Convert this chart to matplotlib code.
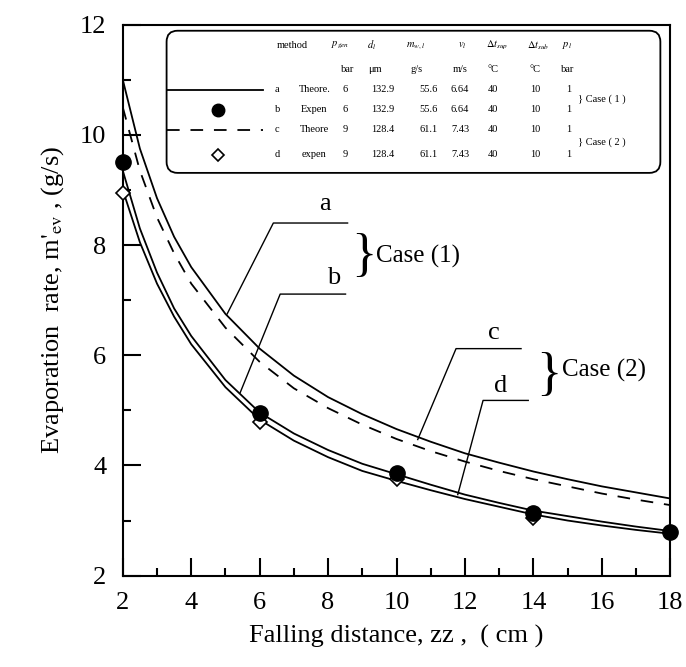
import matplotlib
matplotlib.use("Agg")
import matplotlib.pyplot as plt
from matplotlib.patches import FancyBboxPatch
from matplotlib.ticker import MultipleLocator

plt.rcParams['font.family'] = ['Liberation Serif', 'DejaVu Serif']
plt.rcParams['mathtext.fontset'] = 'stix'

xc = [2, 2.5, 3, 3.5, 4, 5, 6, 7, 8, 9, 10, 11, 12, 13, 14, 15, 16, 17, 18]
ya = [11.0, 9.75, 8.85, 8.15, 7.6, 6.75, 6.12, 5.63, 5.24, 4.93, 4.66, 4.43, 4.22, 4.05, 3.89, 3.75, 3.62, 3.51, 3.40]
yb = [9.35, 8.3, 7.5, 6.85, 6.35, 5.55, 4.96, 4.58, 4.28, 4.03, 3.84, 3.65, 3.47, 3.32, 3.18, 3.08, 2.98, 2.89, 2.81]
yc = [10.5, 9.35, 8.5, 7.85, 7.3, 6.5, 5.88, 5.4, 5.04, 4.74, 4.48, 4.26, 4.07, 3.9, 3.75, 3.62, 3.49, 3.38, 3.28]
yd = [9.0, 8.05, 7.3, 6.7, 6.2, 5.42, 4.83, 4.45, 4.15, 3.9, 3.72, 3.55, 3.39, 3.25, 3.11, 3.0, 2.91, 2.83, 2.76]

# points expérimentaux
xp = [2, 6, 10, 14, 18]
yp_b = [9.5, 4.96, 3.86, 3.14, 2.8]
xp_d = [2, 6, 10, 14]
yp_d = [8.95, 4.78, 3.76, 3.05]

# tableau de la légende
colonnes = ["method", r"$p_{gen}$", r"$d_l$", r"$m_{w,l}$", r"$v_l$", r"$\Delta t_{sup}$", r"$\Delta t_{sub}$", r"$p_l$"]
unites = ["bar", "μm", "g/s", "m/s", "°C", "°C", "bar"]
lignes = [
    ["a", "Theore.", "6", "132.9", "55.6", "6.64", "40", "10", "1"],
    ["b", "Expen", "6", "132.9", "55.6", "6.64", "40", "10", "1"],
    ["c", "Theore", "9", "128.4", "61.1", "7.43", "40", "10", "1"],
    ["d", "expen", "9", "128.4", "61.1", "7.43", "40", "10", "1"],
]

fig = plt.figure(figsize=(6.86, 6.67), dpi=100)
ax = fig.add_axes([0.179, 0.137, 0.798, 0.826])

ax.plot(xc, ya, color="black", lw=1.3)
ax.plot(xc, yb, color="black", lw=1.3)
ax.plot(xc, yc, color="black", lw=1.3, dashes=(7, 6))
ax.plot(xc, yd, color="black", lw=1.3)
ax.plot(xp, yp_b, "o", color="black", ms=11, clip_on=False, zorder=5)
ax.plot(xp_d, yp_d, "D", mfc="white", mec="black", ms=7, mew=1.2, clip_on=False, zorder=4)

ax.set_xlim(2, 18)
ax.set_ylim(2, 12)
ax.xaxis.set_major_locator(MultipleLocator(2))
ax.xaxis.set_minor_locator(MultipleLocator(1))
ax.yaxis.set_major_locator(MultipleLocator(2))
ax.yaxis.set_minor_locator(MultipleLocator(1))
ax.tick_params(which="both", direction="in", top=False, right=False, labelsize=19, width=1.5, pad=12)
ax.tick_params(which="major", length=13)
ax.tick_params(which="minor", length=6)
for s in ax.spines.values():
    s.set_linewidth(1.5)

ax.set_xlabel("Falling distance, zz ,  ( cm )", fontsize=19, labelpad=8)
ax.set_ylabel(r"Evaporation  rate, m$'_{\rm ev}$ , (g/s)", fontsize=19, labelpad=10)

# repères a, b, c, d
ax.plot([5.05, 6.4, 8.57], [6.75, 8.4, 8.4], color="black", lw=1)
ax.plot([5.43, 6.6, 8.51], [5.32, 7.11, 7.11], color="black", lw=1)
ax.plot([10.62, 11.74, 13.64], [4.47, 6.12, 6.12], color="black", lw=1)
ax.plot([11.79, 12.53, 13.85], [3.47, 5.18, 5.18], color="black", lw=1)
ax.text(7.9, 8.55, "a", fontsize=19, ha="center", va="bottom")
ax.text(8.15, 7.2, "b", fontsize=19, ha="center", va="bottom")
ax.text(12.85, 6.2, "c", fontsize=19, ha="center", va="bottom")
ax.text(13.05, 5.25, "d", fontsize=19, ha="center", va="bottom")
ax.text(9.05, 7.78, "}", fontsize=38, ha="center", va="center")
ax.text(9.4, 7.8, "Case (1)", fontsize=18, ha="left", va="center")
ax.text(14.45, 5.62, "}", fontsize=38, ha="center", va="center")
ax.text(14.85, 5.72, "Case (2)", fontsize=18, ha="left", va="center")

# légende sous forme de tableau
box = FancyBboxPatch((0.08, 0.731), 0.902, 0.258, boxstyle="round,pad=0,rounding_size=0.02",
                     transform=ax.transAxes, fc="white", ec="black", lw=1.3, zorder=6)
ax.add_patch(box)
tr = ax.transAxes
fs = 7.5
ycol = [0.882, 0.846, 0.809, 0.764]
ax.plot([0.08, 0.256], [ycol[0], ycol[0]], color="black", lw=1.3, transform=tr, zorder=7)
ax.plot([0.174], [ycol[1]], "o", color="black", ms=9, transform=tr, zorder=7)
ax.plot([0.08, 0.256], [ycol[2], ycol[2]], color="black", lw=1.3, dashes=(7, 6), transform=tr, zorder=7)
ax.plot([0.174], [ycol[3]], "D", mfc="white", mec="black", ms=6, mew=1.2, transform=tr, zorder=7)

xh = [0.31, 0.397, 0.455, 0.534, 0.62, 0.684, 0.759, 0.812]
for x, t in zip(xh, colonnes):
    ax.text(x, 0.962, t, fontsize=fs, ha="center", va="center", transform=tr, zorder=8)
xu = [0.41, 0.461, 0.537, 0.616, 0.676, 0.753, 0.813]
for x, t in zip(xu, unites):
    ax.text(x, 0.918, t, fontsize=fs, ha="center", va="center", transform=tr, zorder=8)
xr = [0.282, 0.35, 0.406, 0.475, 0.558, 0.616, 0.676, 0.753, 0.815]
for y, row in zip(ycol, lignes):
    for x, t in zip(xr, row):
        ax.text(x, y, t, fontsize=fs, ha="center", va="center", transform=tr, zorder=8)
ax.text(0.832, 0.864, "} Case ( 1 )", fontsize=fs, ha="left", va="center", transform=tr, zorder=8)
ax.text(0.832, 0.787, "} Case ( 2 )", fontsize=fs, ha="left", va="center", transform=tr, zorder=8)

fig.savefig("out.png", dpi=100)
